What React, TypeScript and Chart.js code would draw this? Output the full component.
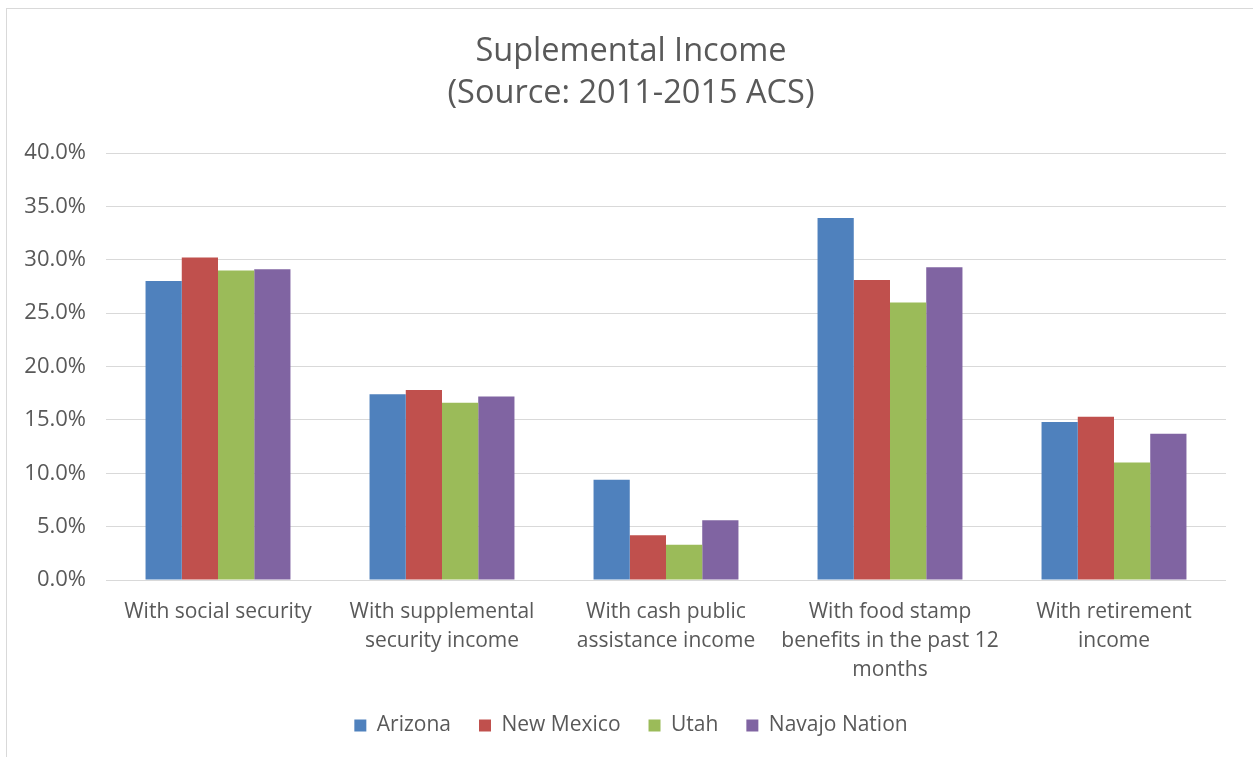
import React, { useEffect, useRef } from "react";
import { Chart, registerables } from "chart.js";

Chart.register(...registerables);

const categories: string[][] = [
  ["With social security"],
  ["With supplemental", "security income"],
  ["With cash public", "assistance income"],
  ["With food stamp", "benefits in the past 12", "months"],
  ["With retirement", "income"],
];

const arizona = [28.0, 17.4, 9.4, 33.9, 14.8];
const newMexico = [30.2, 17.8, 4.2, 28.1, 15.3];
const utah = [29.0, 16.6, 3.3, 26.0, 11.0];
const navajoNation = [29.1, 17.2, 5.6, 29.3, 13.7];

const seriesNames = ["Arizona", "New Mexico", "Utah", "Navajo Nation"];
const seriesColors = ["#4F81BD", "#C0504D", "#9BBB59", "#8064A2"];
const titleLines = ["Suplemental Income", "(Source: 2011-2015 ACS)"];

const TEXT = "#595959";
const FONT = "'Open Sans', sans-serif";
const CANVAS_W = 1262;
const CANVAS_H = 757;

export default function App() {
  const ref = useRef<HTMLCanvasElement | null>(null);

  useEffect(() => {
    document.body.style.margin = "0";
    document.body.style.overflow = "hidden";
    const ctx = ref.current!.getContext("2d")!;
    const values = [arizona, newMexico, utah, navajoNation];
    const chart = new Chart(ctx, {
      type: "bar",
      data: {
        labels: categories,
        datasets: values.map((v, i) => ({
          label: seriesNames[i],
          data: v,
          backgroundColor: seriesColors[i],
          borderWidth: 0,
          categoryPercentage: 0.647,
          barPercentage: 1.0,
          yAxisID: "y",
        })),
      },
      options: {
        responsive: false,
        animation: false,
        devicePixelRatio: 1,
        layout: { padding: { left: 0, right: 0, top: 0, bottom: 11 } },
        plugins: {
          tooltip: { enabled: false },
          title: {
            display: true,
            text: titleLines,
            color: TEXT,
            font: { family: FONT, size: 32.5, weight: "normal", lineHeight: 42 / 32.5 },
            padding: { top: 31, bottom: 38 },
          },
          legend: {
            position: "bottom",
            labels: {
              color: TEXT,
              font: { family: FONT, size: 21, lineHeight: 1.2 },
              boxWidth: 12,
              boxHeight: 12,
              padding: 28,
            },
          },
        },
        scales: {
          x: {
            grid: { display: false },
            border: { display: false },
            ticks: {
              color: TEXT,
              font: { family: FONT, size: 21, lineHeight: 29 / 21 },
              maxRotation: 0,
              autoSkip: false,
              padding: 10,
            },
            afterFit: (s: any) => {
              s.height = 107;
            },
          },
          y: {
            position: "left",
            min: 0,
            max: 40,
            grid: { color: "#d9d9d9", lineWidth: 1, drawTicks: false },
            border: { display: false },
            ticks: {
              stepSize: 5,
              color: TEXT,
              font: { family: FONT, size: 22 },
              padding: 20,
              callback: (v: any) => Number(v).toFixed(1) + "%",
            },
            afterFit: (s: any) => {
              s.width = 106;
            },
          },
          yRight: {
            position: "right",
            min: 0,
            max: 40,
            grid: { display: false, drawTicks: false },
            border: { display: false },
            ticks: { display: false },
            afterFit: (s: any) => {
              s.width = 36;
            },
          },
        },
      },
    });
    return () => chart.destroy();
  }, []);

  return (
    <div style={{ position: "relative", width: 1253, height: 757, overflow: "hidden", background: "#fff" }}>
      <div
        style={{
          position: "absolute",
          left: 6,
          top: 8,
          width: 1400,
          height: 900,
          borderLeft: "1px solid #d9d9d9",
          borderTop: "1px solid #d9d9d9",
        }}
      />
      <canvas ref={ref} width={CANVAS_W} height={CANVAS_H} style={{ position: "absolute", left: 0, top: 0 }} />
    </div>
  );
}
